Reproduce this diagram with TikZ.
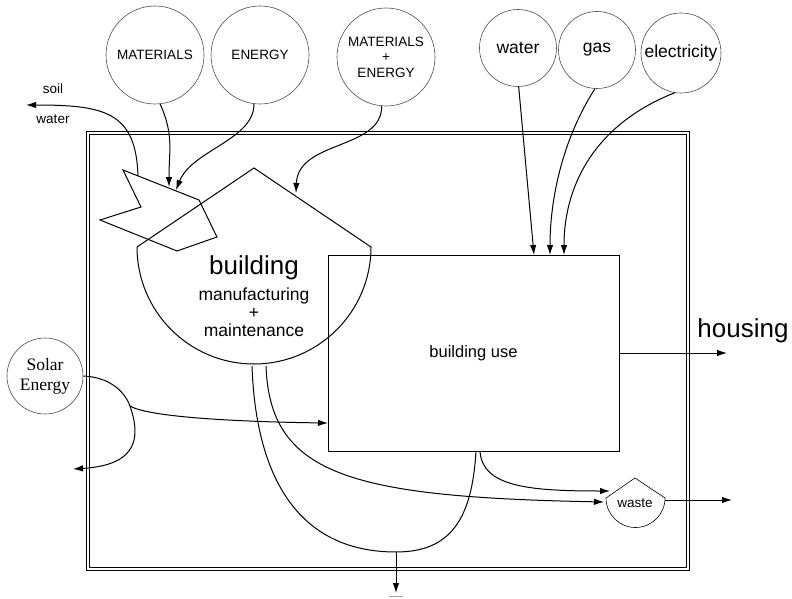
\documentclass[tikz,border=0pt]{standalone}
\usepackage{fontspec}
\setmainfont{Liberation Sans}
\newfontfamily\seriffont{Liberation Serif}
\usetikzlibrary{arrows.meta}

\tikzset{
  source/.style={draw=black!70, circle, line width=0.6pt, inner sep=0pt, align=center},
  flow/.style={line width=1pt, -{Latex[length=10pt,width=6.5pt]}},
  edge/.style={line width=1pt},
  small/.style={font=\fontsize{13.5}{15.5}\selectfont, align=center},
  medium/.style={font=\fontsize{17.5}{20}\selectfont, align=center},
  large/.style={font=\fontsize{26}{28}\selectfont},
}

\begin{document}
\begin{tikzpicture}[x=1pt,y=-1pt]
        \useasboundingbox (0,0) rectangle (792,599);

        % Рамка системы
        \draw[double, double distance=2.4pt, line width=0.8pt] (88,133) rectangle (688,569);

        % Источники
        \node[source, small, minimum size=98pt] (mat)  at (155,55) {MATERIALS};
        \node[source, small, minimum size=98pt] (ener) at (260,55) {ENERGY};
        \node[source, small, minimum size=98pt] (mate) at (386,57) {MATERIALS\\+\\ENERGY};
        \node[source, medium, minimum size=77pt] (wat)  at (518,48) {water};
        \node[source, medium, minimum size=77pt] (gas)  at (597,50) {gas};
        \node[source, medium, minimum size=80pt] (elec) at (681,53) {electricity};
        \node[source, minimum size=76pt, align=center, font=\seriffont\fontsize{17.5}{20}\selectfont] (solar) at (45,376) {Solar\\Energy};

        % Зигзаг
        \draw[edge] (123,170) -- (199,200) -- (217,237) -- (177,251) -- (100,220) -- (141,207) -- cycle;
        \coordinate (zsoil) at (138,176);
        \coordinate (zmat)  at (169,187);
        \coordinate (zener) at (176,190);

        % Здание
        \coordinate (bapex)  at (254,168);
        \coordinate (bleft)  at (137,247);
        \coordinate (bright) at (371,247);
        \draw[edge] (bleft) -- (bapex) -- (bright) arc[start angle=0, end angle=180, radius=117];
        \coordinate (broof) at (296,193);
        \node[large] (bld) at (254,268) {building};
        \node[medium] (bldsub) at (254,312) {manufacturing\\[-2pt]+\\[-2pt]maintenance};
        \coordinate (bout1) at (252,366);
        \coordinate (bout2) at (266,366);

        % Использование здания
        \node[draw, line width=1pt, minimum width=291pt, minimum height=196pt, font=\fontsize{16.5}{18}\selectfont] (use) at (473.5,353) {building use};
        \coordinate (uwat)   at (534,255);
        \coordinate (ugas)   at (550,255);
        \coordinate (uelec)  at (564,255);
        \coordinate (usolar) at (328,423);
        \coordinate (uout1)  at (476,451);
        \coordinate (uout2)  at (480,451);

        % Отходы
        \coordinate (wapex) at (635,478);
        \coordinate (wleft) at (606,498);
        \coordinate (wright) at (665,498);
        \draw[line width=0.6pt] (wleft) -- (wapex) -- (wright) arc[start angle=0, end angle=180, radius=29.5];
        \node[small] (waste) at (635,503) {waste};
        \coordinate (win1) at (610,491);
        \coordinate (win2) at (604,502);
        \coordinate (wout) at (732,500);

        % Выходы
        \coordinate (hout) at (727,353);
        \node[large] (housing) at (743,331) {housing};
        \coordinate (soilout) at (26,105);
        \node[small] (soil) at (53,89) {soil};
        \node[small] (water) at (53,119) {water};
        \coordinate (gj)  at (396,552);
        \coordinate (gnd) at (396,593);
        \coordinate (sj)  at (130,406);
        \coordinate (solout) at (73,469);

        % Потоки
        \draw[flow] (zsoil) .. controls (136,112) and (105,105) .. (soilout);
        \draw[flow] (mat.-84) .. controls (174,135) and (169,150) .. (zmat);
        \draw[flow] (ener.-97) .. controls (254,140) and (192,150) .. (zener);
        \draw[flow] (mate.-95) .. controls (382,150) and (298,140) .. (broof);
        \draw[flow] (wat.-89) -- (uwat);
        \draw[flow] (gas.-93) .. controls (562,140) and (550,200) .. (ugas);
        \draw[flow] (elec.-99) .. controls (600,122) and (564,180) .. (uelec);
        \draw[edge] (solar.east) .. controls (108,377) and (124,390) .. (sj);
        \draw[flow] (sj) .. controls (140,435) and (140,465) .. (solout);
        \draw[flow] (sj) .. controls (150,418) and (250,422) .. (usolar);
        \draw[flow] (use.east |- hout) -- (hout);
        \draw[flow] (bout2) .. controls (270,475) and (350,497) .. (win2);
        \draw[flow] (uout2) .. controls (482,487) and (530,491) .. (win1);
        \draw[flow] (wright |- wout) -- (wout);
        \draw[edge] (bout1) .. controls (256,480) and (300,552) .. (gj);
        \draw[edge] (uout1) .. controls (472,520) and (450,552) .. (gj);
        \draw[flow] (gj) -- (gnd);
        \draw[black!35, line width=1.2pt] (389,596.5) -- (403,596.5);
    \end{tikzpicture}
\end{document}
